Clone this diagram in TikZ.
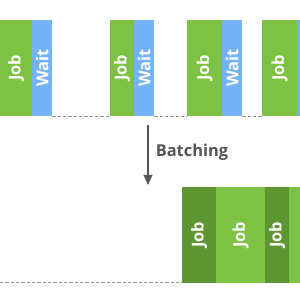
\documentclass[tikz,border=0pt]{standalone}
\usepackage{fontspec}
\setsansfont{Open Sans}
\usetikzlibrary{positioning, arrows.meta}
\usepackage{xcolor}
\definecolor{jobgreen}{RGB}{125,194,66}
\definecolor{jobdark}{RGB}{94,151,50}
\definecolor{waitblue}{RGB}{116,179,247}
\definecolor{gapgray}{RGB}{150,150,150}
\definecolor{arrowgray}{RGB}{85,85,85}

\begin{document}
\begin{tikzpicture}
  \tikzset{
    block/.style={
      inner sep=0pt,
      minimum height=2.88cm,
      anchor=south west,
      text=white,
      font=\sffamily\bfseries\fontsize{14}{16}\selectfont
    },
    jobbox/.style={
      block,
      fill=jobgreen
    },
    jobdarkbox/.style={
      block,
      fill=jobdark
    },
    waitbox/.style={
      block,
      fill=waitblue
    },
    gapline/.style={
      draw=gapgray,
      line width=0.7pt,
      dash pattern=on 0.1cm off 0.06cm
    },
    batcharrow/.style={
      draw=arrowgray,
      line width=1.3pt,
      -{Triangle[length=0.3cm,width=0.26cm]}
    },
    caption/.style={
      text=arrowgray,
      anchor=west,
      font=\sffamily\bfseries\fontsize{14}{16}\selectfont
    }
  }
  \useasboundingbox (0,0) rectangle (9,9);
  \clip (0,0) rectangle (9,9);

  % Jobs with waits in between
  \node[jobbox, minimum width=0.96cm] at (0.0, 5.52) (job1) {\rotatebox{90}{Job}};
  \node[waitbox, minimum width=0.6cm] at (0.96, 5.52) (wait1) {\rotatebox{90}{Wait}};
  \node[jobbox, minimum width=0.72cm] at (3.3, 5.52) (job2) {\rotatebox{90}{Job}};
  \node[waitbox, minimum width=0.6cm] at (4.02, 5.52) (wait2) {\rotatebox{90}{Wait}};
  \node[jobbox, minimum width=1.05cm] at (5.61, 5.52) (job3) {\rotatebox{90}{Job}};
  \node[waitbox, minimum width=0.6cm] at (6.66, 5.52) (wait3) {\rotatebox{90}{Wait}};
  \node[jobbox, minimum width=1.05cm] at (7.86, 5.52) (job4) {\rotatebox{90}{Job}};
  \node[waitbox, minimum width=0.6cm] at (8.91, 5.52) (wait4) {};

  % Idle gaps
  \draw[gapline] (wait1.south east) -- (job2.south west);
  \draw[gapline] (wait2.south east) -- (job3.south west);
  \draw[gapline] (wait3.south east) -- (job4.south west);

  % Arrow
  \coordinate (arrowtop) at (4.44, 5.25);
  \coordinate (arrowtip) at (4.44, 3.45);
  \draw[batcharrow] (arrowtop) -- (arrowtip);
  \node[caption] at (4.55, 4.44) (batching) {Batching};

  % Batched jobs
  \node[jobdarkbox, minimum width=1.02cm] at (5.46, 0.51) (bjob1) {\rotatebox{90}{Job}};
  \node[jobbox, minimum width=1.47cm] at (6.48, 0.51) (bjob2) {\rotatebox{90}{Job}};
  \node[jobdarkbox, minimum width=0.72cm] at (7.95, 0.51) (bjob3) {\rotatebox{90}{Job}};
  \node[jobbox, minimum width=1.2cm] at (8.67, 0.51) (bjob4) {};

  % Idle time before
  \coordinate (idlestart) at (0, 0.54);
  \draw[gapline] (idlestart) -- (idlestart -| bjob1.south west);

\end{tikzpicture}
\end{document}
